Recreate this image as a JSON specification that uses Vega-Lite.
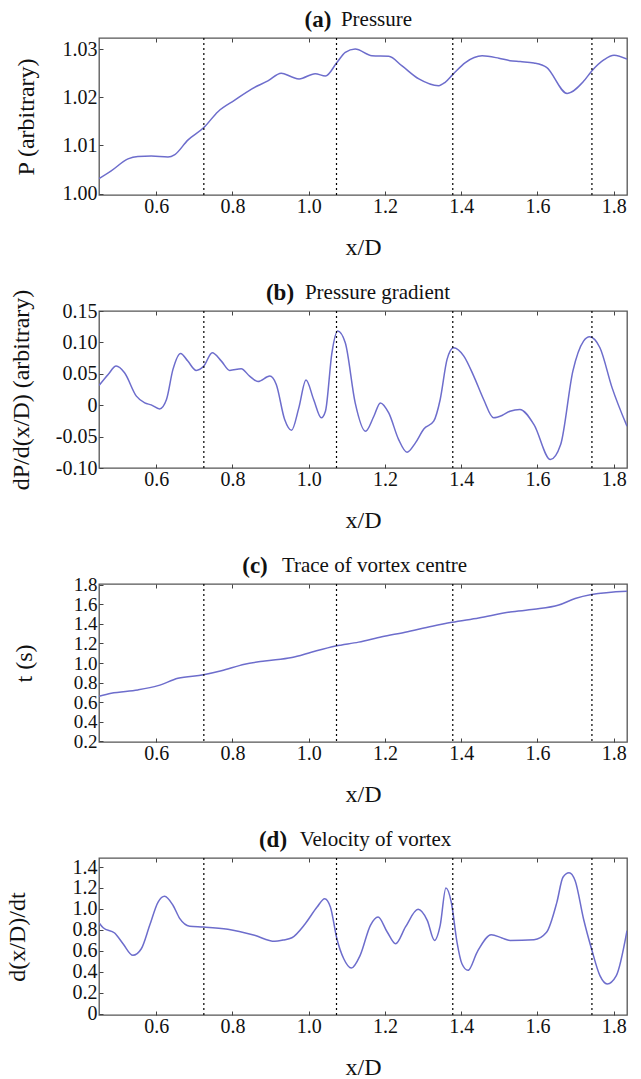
{
  "$schema": "https://vega.github.io/schema/vega-lite/v6.json",
  "padding": {"left": 4, "top": 7, "right": 5, "bottom": 0},
  "background": "white",
  "spacing": 20,
  "config": {
    "font": "Liberation Serif",
    "view": {"stroke": "#555", "strokeWidth": 1.3},
    "axis": {
      "labelFont": "Liberation Serif", "labelFontSize": 20, "labelColor": "#111", "labelOverlap": false,
      "titleFont": "Liberation Serif", "titleFontSize": 24, "titleFontWeight": "normal", "titleColor": "#111",
      "grid": false, "domain": false, "ticks": true, "tickSize": -4, "tickColor": "#444", "labelPadding": 6
    },
    "title": {"font": "Liberation Serif", "fontSize": 23, "fontWeight": "bold", "color": "#111", "anchor": "middle", "frame": "group"}
  },
  "datasets": {
    "rules": [{"xd": 0.725}, {"xd": 1.073}, {"xd": 1.378}, {"xd": 1.743}],
    "pa": [
      {"x": 0.45, "y": 1.0031}, {"x": 0.482, "y": 1.0047}, {"x": 0.526, "y": 1.0072}, {"x": 0.552, "y": 1.0077},
      {"x": 0.587, "y": 1.0078}, {"x": 0.631, "y": 1.0076}, {"x": 0.649, "y": 1.0081}, {"x": 0.683, "y": 1.0111},
      {"x": 0.725, "y": 1.0137}, {"x": 0.762, "y": 1.017}, {"x": 0.806, "y": 1.0194}, {"x": 0.85, "y": 1.0217},
      {"x": 0.893, "y": 1.0234}, {"x": 0.928, "y": 1.025}, {"x": 0.956, "y": 1.0242}, {"x": 0.975, "y": 1.0238},
      {"x": 1.017, "y": 1.0249}, {"x": 1.044, "y": 1.0244}, {"x": 1.074, "y": 1.0272}, {"x": 1.096, "y": 1.0293},
      {"x": 1.122, "y": 1.03}, {"x": 1.166, "y": 1.0286}, {"x": 1.21, "y": 1.0285}, {"x": 1.245, "y": 1.0265},
      {"x": 1.289, "y": 1.0238}, {"x": 1.341, "y": 1.0224}, {"x": 1.358, "y": 1.0231}, {"x": 1.379, "y": 1.0248},
      {"x": 1.411, "y": 1.0272}, {"x": 1.455, "y": 1.0286}, {"x": 1.499, "y": 1.0281}, {"x": 1.528, "y": 1.0276},
      {"x": 1.555, "y": 1.0274}, {"x": 1.591, "y": 1.0271}, {"x": 1.624, "y": 1.0262}, {"x": 1.678, "y": 1.0208},
      {"x": 1.721, "y": 1.0233}, {"x": 1.742, "y": 1.0254}, {"x": 1.775, "y": 1.0278}, {"x": 1.801, "y": 1.0287},
      {"x": 1.835, "y": 1.0279}
    ],
    "pb": [
      {"x": 0.45, "y": 0.0314}, {"x": 0.474, "y": 0.049}, {"x": 0.495, "y": 0.0623}, {"x": 0.517, "y": 0.0516},
      {"x": 0.548, "y": 0.0144}, {"x": 0.57, "y": 0.0037}, {"x": 0.587, "y": 0.0005}, {"x": 0.609, "y": -0.0059},
      {"x": 0.627, "y": 0.0091}, {"x": 0.644, "y": 0.057}, {"x": 0.664, "y": 0.0825}, {"x": 0.683, "y": 0.0702},
      {"x": 0.705, "y": 0.0554}, {"x": 0.725, "y": 0.0623}, {"x": 0.747, "y": 0.0835}, {"x": 0.771, "y": 0.0702},
      {"x": 0.793, "y": 0.0554}, {"x": 0.823, "y": 0.058}, {"x": 0.845, "y": 0.0463}, {"x": 0.867, "y": 0.0378},
      {"x": 0.898, "y": 0.0463}, {"x": 0.915, "y": 0.033}, {"x": 0.937, "y": -0.0228}, {"x": 0.955, "y": -0.04},
      {"x": 0.974, "y": -0.0047}, {"x": 0.993, "y": 0.0401}, {"x": 1.013, "y": 0.0091}, {"x": 1.033, "y": -0.02},
      {"x": 1.044, "y": -0.0095}, {"x": 1.061, "y": 0.0835}, {"x": 1.076, "y": 0.118}, {"x": 1.096, "y": 0.0994},
      {"x": 1.122, "y": 0.0037}, {"x": 1.149, "y": -0.0415}, {"x": 1.171, "y": -0.0176}, {"x": 1.188, "y": 0.0037},
      {"x": 1.21, "y": -0.0123}, {"x": 1.236, "y": -0.0547}, {"x": 1.258, "y": -0.075}, {"x": 1.28, "y": -0.06},
      {"x": 1.302, "y": -0.0378}, {"x": 1.328, "y": -0.0255}, {"x": 1.345, "y": 0.0091}, {"x": 1.363, "y": 0.0729},
      {"x": 1.38, "y": 0.0915}, {"x": 1.407, "y": 0.0782}, {"x": 1.433, "y": 0.0463}, {"x": 1.459, "y": 0.0091},
      {"x": 1.485, "y": -0.02}, {"x": 1.507, "y": -0.0164}, {"x": 1.528, "y": -0.0095}, {"x": 1.554, "y": -0.0068},
      {"x": 1.591, "y": -0.031}, {"x": 1.634, "y": -0.0866}, {"x": 1.661, "y": -0.0627}, {"x": 1.693, "y": 0.0543},
      {"x": 1.721, "y": 0.1021}, {"x": 1.737, "y": 0.109}, {"x": 1.764, "y": 0.0915}, {"x": 1.796, "y": 0.0276},
      {"x": 1.835, "y": -0.0335}
    ],
    "pc": [
      {"x": 0.45, "y": 0.66}, {"x": 0.482, "y": 0.69}, {"x": 0.552, "y": 0.724}, {"x": 0.605, "y": 0.768},
      {"x": 0.657, "y": 0.843}, {"x": 0.724, "y": 0.879}, {"x": 0.771, "y": 0.92}, {"x": 0.832, "y": 0.988},
      {"x": 0.885, "y": 1.021}, {"x": 0.956, "y": 1.056}, {"x": 1.009, "y": 1.113}, {"x": 1.071, "y": 1.174},
      {"x": 1.131, "y": 1.214}, {"x": 1.192, "y": 1.269}, {"x": 1.253, "y": 1.316}, {"x": 1.324, "y": 1.377},
      {"x": 1.376, "y": 1.417}, {"x": 1.446, "y": 1.462}, {"x": 1.528, "y": 1.523}, {"x": 1.591, "y": 1.55},
      {"x": 1.656, "y": 1.594}, {"x": 1.699, "y": 1.661}, {"x": 1.742, "y": 1.702}, {"x": 1.835, "y": 1.736}
    ],
    "pd": [
      {"x": 0.45, "y": 0.869}, {"x": 0.461, "y": 0.82}, {"x": 0.491, "y": 0.77}, {"x": 0.513, "y": 0.668},
      {"x": 0.539, "y": 0.557}, {"x": 0.561, "y": 0.62}, {"x": 0.583, "y": 0.844}, {"x": 0.605, "y": 1.066},
      {"x": 0.622, "y": 1.12}, {"x": 0.644, "y": 1.035}, {"x": 0.662, "y": 0.907}, {"x": 0.688, "y": 0.835},
      {"x": 0.724, "y": 0.828}, {"x": 0.788, "y": 0.806}, {"x": 0.858, "y": 0.748}, {"x": 0.911, "y": 0.691},
      {"x": 0.933, "y": 0.703}, {"x": 0.956, "y": 0.725}, {"x": 0.991, "y": 0.859}, {"x": 1.022, "y": 1.018},
      {"x": 1.042, "y": 1.098}, {"x": 1.057, "y": 1.018}, {"x": 1.074, "y": 0.716}, {"x": 1.092, "y": 0.525},
      {"x": 1.112, "y": 0.436}, {"x": 1.135, "y": 0.557}, {"x": 1.162, "y": 0.844}, {"x": 1.182, "y": 0.923},
      {"x": 1.206, "y": 0.78}, {"x": 1.228, "y": 0.668}, {"x": 1.254, "y": 0.828}, {"x": 1.287, "y": 0.996},
      {"x": 1.311, "y": 0.891}, {"x": 1.33, "y": 0.7}, {"x": 1.345, "y": 0.844}, {"x": 1.36, "y": 1.2},
      {"x": 1.374, "y": 1.066}, {"x": 1.389, "y": 0.684}, {"x": 1.402, "y": 0.477}, {"x": 1.418, "y": 0.414},
      {"x": 1.442, "y": 0.589}, {"x": 1.479, "y": 0.754}, {"x": 1.507, "y": 0.723}, {"x": 1.528, "y": 0.7},
      {"x": 1.591, "y": 0.706}, {"x": 1.624, "y": 0.777}, {"x": 1.651, "y": 1.063}, {"x": 1.667, "y": 1.302},
      {"x": 1.683, "y": 1.345}, {"x": 1.699, "y": 1.269}, {"x": 1.721, "y": 0.904}, {"x": 1.742, "y": 0.618},
      {"x": 1.764, "y": 0.363}, {"x": 1.783, "y": 0.284}, {"x": 1.807, "y": 0.363}, {"x": 1.835, "y": 0.792}
    ]
  },
  "vconcat": [
    {
      "width": 528, "height": 157,
      "title": {"text": "(a)", "dx": -45, "offset": -24},
      "resolve": {"axis": {"x": "independent"}},
      "layer": [
        {
          "data": {"name": "pa"},
          "mark": {"type": "line", "color": "#6d6dcc", "strokeWidth": 1.5, "interpolate": "monotone", "clip": true},
          "encoding": {
            "x": {"field": "x", "type": "quantitative", "scale": {"domain": [0.45, 1.835], "nice": false, "zero": false},
                  "axis": {"title": "x/D", "values": [0.6, 0.8, 1.0, 1.2, 1.4, 1.6, 1.8], "format": ".1f", "labelPadding": 5, "titlePadding": 19}},
            "y": {"field": "y", "type": "quantitative", "scale": {"domain": [0.9997, 1.0323], "nice": false, "zero": false},
                  "axis": {"title": "P (arbitrary)", "values": [1.0, 1.01, 1.02, 1.03], "format": ".2f", "titlePadding": 24}}
          }
        },
        {
          "data": {"name": "rules"},
          "mark": {"type": "rule", "color": "#000", "strokeDash": [2, 3], "strokeWidth": 1.2},
          "encoding": {
            "x": {"field": "xd", "type": "quantitative", "scale": {"domain": [0.45, 1.835], "nice": false, "zero": false},
                  "axis": {"orient": "top", "title": "Pressure", "labels": false, "values": [0.6, 0.8, 1.0, 1.2, 1.4, 1.6, 1.8],
                           "titleX": 277, "titleY": -13, "titleBaseline": "alphabetic", "titleFontSize": 21}}
          }
        }
      ]
    },
    {
      "width": 528, "height": 157,
      "title": {"text": "(b)", "dx": -83, "offset": -24},
      "resolve": {"axis": {"x": "independent"}},
      "layer": [
        {
          "data": {"name": "pb"},
          "mark": {"type": "line", "color": "#6d6dcc", "strokeWidth": 1.5, "interpolate": "monotone", "clip": true},
          "encoding": {
            "x": {"field": "x", "type": "quantitative", "scale": {"domain": [0.45, 1.835], "nice": false, "zero": false},
                  "axis": {"title": "x/D", "values": [0.6, 0.8, 1.0, 1.2, 1.4, 1.6, 1.8], "format": ".1f", "labelPadding": 5, "titlePadding": 19}},
            "y": {"field": "y", "type": "quantitative", "scale": {"domain": [-0.1, 0.15], "nice": false, "zero": false},
                  "axis": {"title": "dP/d(x/D) (arbitrary)", "values": [-0.1, -0.05, 0, 0.05, 0.1, 0.15],
                           "labelExpr": "datum.value == 0 ? '0' : replace(format(datum.value, '.2f'), '\u2212', '-')", "titlePadding": 22}}
          }
        },
        {
          "data": {"name": "rules"},
          "mark": {"type": "rule", "color": "#000", "strokeDash": [2, 3], "strokeWidth": 1.2},
          "encoding": {
            "x": {"field": "xd", "type": "quantitative", "scale": {"domain": [0.45, 1.835], "nice": false, "zero": false},
                  "axis": {"orient": "top", "title": "Pressure gradient", "labels": false, "values": [0.6, 0.8, 1.0, 1.2, 1.4, 1.6, 1.8],
                           "titleX": 278, "titleY": -13, "titleBaseline": "alphabetic", "titleFontSize": 21}}
          }
        }
      ]
    },
    {
      "width": 528, "height": 158,
      "title": {"text": "(c)", "dx": -108, "offset": -24},
      "resolve": {"axis": {"x": "independent"}},
      "layer": [
        {
          "data": {"name": "pc"},
          "mark": {"type": "line", "color": "#6d6dcc", "strokeWidth": 1.5, "interpolate": "monotone", "clip": true},
          "encoding": {
            "x": {"field": "x", "type": "quantitative", "scale": {"domain": [0.45, 1.835], "nice": false, "zero": false},
                  "axis": {"title": "x/D", "values": [0.6, 0.8, 1.0, 1.2, 1.4, 1.6, 1.8], "format": ".1f", "labelPadding": 5, "titlePadding": 19}},
            "y": {"field": "y", "type": "quantitative", "scale": {"domain": [0.19, 1.81], "nice": false, "zero": false},
                  "axis": {"title": "t (s)", "values": [0.2, 0.4, 0.6, 0.8, 1.0, 1.2, 1.4, 1.6, 1.8], "format": ".1f", "labelFontSize": 19, "titlePadding": 37}}
          }
        },
        {
          "data": {"name": "rules"},
          "mark": {"type": "rule", "color": "#000", "strokeDash": [2, 3], "strokeWidth": 1.2},
          "encoding": {
            "x": {"field": "xd", "type": "quantitative", "scale": {"domain": [0.45, 1.835], "nice": false, "zero": false},
                  "axis": {"orient": "top", "title": "Trace of vortex centre", "labels": false, "values": [0.6, 0.8, 1.0, 1.2, 1.4, 1.6, 1.8],
                           "titleX": 275, "titleY": -13, "titleBaseline": "alphabetic", "titleFontSize": 21}}
          }
        }
      ]
    },
    {
      "width": 528, "height": 157,
      "title": {"text": "(d)", "dx": -90, "offset": -24},
      "resolve": {"axis": {"x": "independent"}},
      "layer": [
        {
          "data": {"name": "pd"},
          "mark": {"type": "line", "color": "#6d6dcc", "strokeWidth": 1.5, "interpolate": "monotone", "clip": true},
          "encoding": {
            "x": {"field": "x", "type": "quantitative", "scale": {"domain": [0.45, 1.835], "nice": false, "zero": false},
                  "axis": {"title": "x/D", "values": [0.6, 0.8, 1.0, 1.2, 1.4, 1.6, 1.8], "format": ".1f", "labelPadding": 5, "titlePadding": 19}},
            "y": {"field": "y", "type": "quantitative", "scale": {"domain": [-0.012, 1.486], "nice": false, "zero": false},
                  "axis": {"title": "d(x/D)/dt", "values": [0, 0.2, 0.4, 0.6, 0.8, 1.0, 1.2, 1.4],
                           "labelExpr": "datum.value == 0 ? '0' : format(datum.value, '.1f')", "titlePadding": 43}}
          }
        },
        {
          "data": {"name": "rules"},
          "mark": {"type": "rule", "color": "#000", "strokeDash": [2, 3], "strokeWidth": 1.2},
          "encoding": {
            "x": {"field": "xd", "type": "quantitative", "scale": {"domain": [0.45, 1.835], "nice": false, "zero": false},
                  "axis": {"orient": "top", "title": "Velocity of vortex", "labels": false, "values": [0.6, 0.8, 1.0, 1.2, 1.4, 1.6, 1.8],
                           "titleX": 276, "titleY": -13, "titleBaseline": "alphabetic", "titleFontSize": 21}}
          }
        }
      ]
    }
  ]
}
